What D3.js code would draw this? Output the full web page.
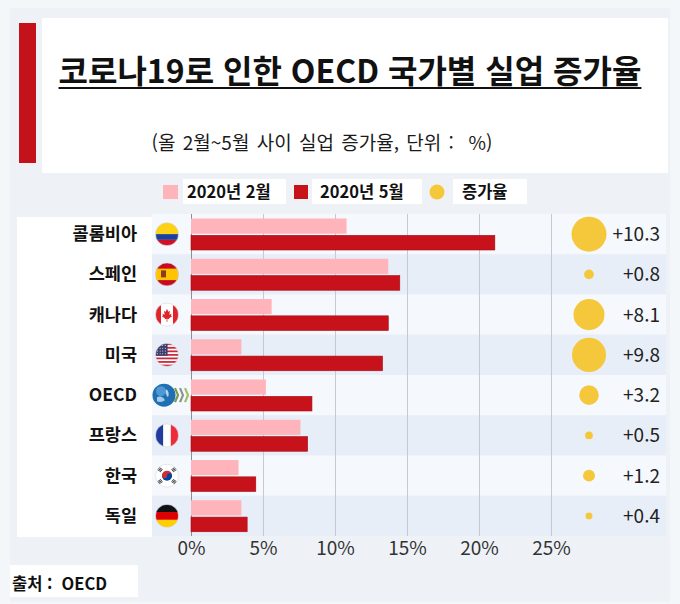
<!DOCTYPE html>
<html lang="ko">
<head>
<meta charset="UTF-8">
<title>코로나19로 인한 OECD 국가별 실업 증가율</title>
<script src="https://cdn.jsdelivr.net/npm/d3@7/dist/d3.min.js"></script>
<style>
  body { margin: 0; background: #f4f7fa; }
  svg { display: block; }
  text { font-family: "Noto Sans CJK KR", "Noto Sans", sans-serif; white-space: pre; }
</style>
</head>
<body>
<svg id="chart" width="680" height="604"></svg>
<script>
// 데이터
var countries = ["콜롬비아", "스페인", "캐나다", "미국", "OECD", "프랑스", "한국", "독일"];
var flagKeys  = ["co", "es", "ca", "us", "oecd", "fr", "kr", "de"];
var feb2020   = [10.8, 13.7, 5.6, 3.5, 5.2, 7.6, 3.3, 3.5];
var may2020   = [21.1, 14.5, 13.7, 13.3, 8.4, 8.1, 4.5, 3.9];
var increase  = [10.3, 0.8, 8.1, 9.8, 3.2, 0.5, 1.2, 0.4];
var xTicks    = [0, 5, 10, 15, 20, 25];
var legendLabels = ["2020년 2월", "2020년 5월", "증가율"];

var lightRed = "#ffb3ba", darkRed = "#c8121b", yellow = "#f5c83b";

var svg = d3.select("#chart");

// 배경 패널
svg.append("rect").attr("x", 10).attr("y", 8).attr("width", 660).attr("height", 594).attr("fill", "#eef2f7");
svg.append("rect").attr("x", 42).attr("y", 18).attr("width", 626).attr("height", 155).attr("fill", "#ffffff");
svg.append("rect").attr("x", 19).attr("y", 23).attr("width", 17).attr("height", 140).attr("fill", "#c4121a");

// 제목
var title = svg.append("text")
    .attr("x", 350).attr("y", 83)
    .attr("text-anchor", "middle")
    .attr("font-size", 32).attr("font-weight", "bold").attr("fill", "#111")
    .text("코로나19로 인한 OECD 국가별 실업 증가율");
var tb = title.node().getBBox();
svg.append("line")
    .attr("x1", tb.x).attr("x2", tb.x + tb.width)
    .attr("y1", 88).attr("y2", 88)
    .attr("stroke", "#111").attr("stroke-width", 2);

svg.append("text")
    .attr("x", 322).attr("y", 150)
    .attr("text-anchor", "middle")
    .attr("font-size", 19).attr("fill", "#1a1a1a")
    .attr("word-spacing", 2)
    .text("(올 2월~5월 사이 실업 증가율, 단위 :  %)");

// 스케일
var x = d3.scaleLinear().domain([0, 25]).range([191, 551]);
var y = d3.scaleBand().domain(countries).range([214, 536]);
var sub = d3.scaleBand().domain(["feb", "may"]).range([4.5, 36.5]).paddingInner(0.1);
var r = d3.scaleSqrt().domain([0, 10.3]).range([0, 17.5]);

// 범례
var legend = svg.append("g");
[[183, 286], [312, 422], [453, 527]].forEach(function (b) {
    legend.append("rect").attr("x", b[0]).attr("y", 179).attr("width", b[1] - b[0]).attr("height", 25).attr("fill", "#fff");
});
legend.append("rect").attr("x", 163).attr("y", 185).attr("width", 15).attr("height", 14).attr("fill", lightRed);
legend.append("rect").attr("x", 294).attr("y", 185).attr("width", 14).attr("height", 14).attr("fill", darkRed);
legend.append("circle").attr("cx", 437).attr("cy", 192).attr("r", 7.5).attr("fill", yellow);
legend.selectAll("text.lg").data(legendLabels).enter().append("text")
    .attr("class", "lg")
    .attr("x", function (d, i) { return [187, 320, 462][i]; })
    .attr("y", 198)
    .attr("font-size", 16.5).attr("font-weight", "bold").attr("fill", "#111")
    .text(function (d) { return d; });

// 행 배경
svg.selectAll("rect.band").data(countries).enter().append("rect")
    .attr("class", "band")
    .attr("x", 152).attr("width", 514)
    .attr("y", function (d) { return y(d); })
    .attr("height", y.bandwidth())
    .attr("fill", function (d, i) { return i % 2 ? "#e8eef8" : "#f5f8fc"; });

// 국가명 흰 상자
svg.append("rect").attr("x", 17).attr("y", 217).attr("width", 135).attr("height", 320).attr("fill", "#fff");

// 격자
var grid = svg.append("g").attr("transform", "translate(0,536)")
    .call(d3.axisBottom(x).tickValues(xTicks).tickSize(-322).tickFormat(""));
grid.select(".domain").remove();
grid.selectAll(".tick line").attr("stroke", function (d) { return d === 0 ? "#8a8f96" : "#c5cad2"; });

// 막대
var rows = svg.selectAll("g.row").data(countries).enter().append("g")
    .attr("class", "row")
    .attr("transform", function (d) { return "translate(0," + y(d) + ")"; });

rows.append("rect")
    .attr("x", x(0)).attr("y", sub("feb"))
    .attr("width", function (d, i) { return x(feb2020[i]) - x(0); })
    .attr("height", sub.bandwidth())
    .attr("fill", lightRed);

rows.append("rect")
    .attr("x", x(0)).attr("y", sub("may"))
    .attr("width", function (d, i) { return x(may2020[i]) - x(0); })
    .attr("height", sub.bandwidth() - 0.5)
    .attr("fill", darkRed).attr("stroke", "#a80d14").attr("stroke-width", 0.6);

rows.append("text")
    .attr("x", 137).attr("y", y.bandwidth() / 2 + 6)
    .attr("text-anchor", "end")
    .attr("font-size", 17.5).attr("font-weight", "bold").attr("fill", "#111")
    .text(function (d) { return d; });

rows.append("circle")
    .attr("cx", 589).attr("cy", y.bandwidth() / 2)
    .attr("r", function (d, i) { return r(increase[i]); })
    .attr("fill", yellow);

rows.append("text")
    .attr("x", 660).attr("y", y.bandwidth() / 2 + 7)
    .attr("text-anchor", "end")
    .attr("font-family", "Open Sans, Noto Sans, sans-serif")
    .attr("font-size", 19).attr("fill", "#222")
    .text(function (d, i) { return "+" + increase[i]; });

// 국기
var defs = svg.append("defs");
var FR = 11.5;
defs.append("clipPath").attr("id", "flagClip").append("circle").attr("r", FR);

function drawFlag(g, key) {
    var c = g.append("g").attr("clip-path", "url(#flagClip)");
    function band(x0, y0, w, h, col) {
        c.append("rect").attr("x", x0).attr("y", y0).attr("width", w).attr("height", h).attr("fill", col);
    }
    if (key === "co") {
        band(-FR, -FR, 2 * FR, FR, "#fcd116");
        band(-FR, 0, 2 * FR, FR / 2, "#1e3f9c");
        band(-FR, FR / 2, 2 * FR, FR / 2, "#ce1126");
    } else if (key === "es") {
        band(-FR, -FR, 2 * FR, 2 * FR, "#c60b1e");
        band(-FR, -FR / 2, 2 * FR, FR, "#ffc400");
        c.append("rect").attr("x", -6).attr("y", -4).attr("width", 5).attr("height", 7).attr("fill", "#8c3b1f");
    } else if (key === "ca") {
        band(-FR, -FR, 2 * FR, 2 * FR, "#ffffff");
        band(-FR, -FR, 5.5, 2 * FR, "#e0242b");
        band(FR - 5.5, -FR, 5.5, 2 * FR, "#e0242b");
        c.append("path")
            .attr("d", "M0,-6 L1.3,-3 L3,-3.6 L2.3,0 L4.5,-1 L4,1 L5.2,1.6 L2,3.5 L2.4,4.6 L0.4,4.2 L0.4,7 L-0.4,7 L-0.4,4.2 L-2.4,4.6 L-2,3.5 L-5.2,1.6 L-4,1 L-4.5,-1 L-2.3,0 L-3,-3.6 L-1.3,-3 Z")
            .attr("fill", "#e0242b");
    } else if (key === "us") {
        band(-FR, -FR, 2 * FR, 2 * FR, "#ffffff");
        var sh = 2 * FR / 13;
        for (var s = 0; s < 13; s += 2) band(-FR, -FR + s * sh, 2 * FR, sh, "#c8283c");
        band(-FR, -FR, FR * 1.05, sh * 7, "#3c3b6e");
        for (var a = 0; a < 4; a++) for (var b = 0; b < 4; b++)
            c.append("circle").attr("cx", -FR + 2 + a * 2.6).attr("cy", -FR + 2 + b * 2.8).attr("r", 0.5).attr("fill", "#fff");
    } else if (key === "oecd") {
        g.select("g").attr("clip-path", null);
        c.append("circle").attr("cx", -3).attr("cy", 0).attr("r", 11.5).attr("fill", "#1f6fb2");
        c.append("circle").attr("cx", -6).attr("cy", -4).attr("r", 5).attr("fill", "#5aa3dc").attr("opacity", 0.8);
        c.append("path").attr("d", "M-10,2 Q-5,0 -2,5 Q-6,8 -10,6 Z").attr("fill", "#c9e3f5").attr("opacity", 0.8);
        c.append("path").attr("d", "M-1,-6 Q3,-4 1,2 Q-2,-1 -1,-6 Z").attr("fill", "#d9edf8").attr("opacity", 0.8);
        [[11, "#7a9a4a"], [16, "#8a9396"], [21, "#9fbf62"]].forEach(function (v) {
            c.append("path")
                .attr("d", "M" + (v[0] - 3) + ",-7 L" + v[0] + ",0 L" + (v[0] - 3) + ",7")
                .attr("fill", "none").attr("stroke", v[1]).attr("stroke-width", 2.2);
        });
    } else if (key === "fr") {
        band(-FR, -FR, 2 * FR / 3 + 0.5, 2 * FR, "#1f3c9e");
        band(-FR / 3, -FR, 2 * FR / 3, 2 * FR, "#ffffff");
        band(FR / 3, -FR, 2 * FR / 3, 2 * FR, "#ef2b3a");
    } else if (key === "kr") {
        band(-FR, -FR, 2 * FR, 2 * FR, "#ffffff");
        c.append("path").attr("d", "M-5,0 A5,5 0 0 1 5,0 Z").attr("fill", "#cd2e3a");
        c.append("path").attr("d", "M-5,0 A5,5 0 0 0 5,0 Z").attr("fill", "#0047a0");
        c.append("circle").attr("cx", -2.5).attr("cy", 0).attr("r", 2.5).attr("fill", "#cd2e3a");
        c.append("circle").attr("cx", 2.5).attr("cy", 0).attr("r", 2.5).attr("fill", "#0047a0");
        [[-7, -6, 35], [7, -6, -35], [-7, 6, -35], [7, 6, 35]].forEach(function (t) {
            var tg = c.append("g").attr("transform", "translate(" + t[0] + "," + t[1] + ") rotate(" + t[2] + ")");
            for (var k = -1; k <= 1; k++)
                tg.append("rect").attr("x", -2.2).attr("y", k * 1.4 - 0.4).attr("width", 4.4).attr("height", 0.8).attr("fill", "#222");
        });
    } else if (key === "de") {
        band(-FR, -FR, 2 * FR, 2 * FR / 3 + 0.5, "#111111");
        band(-FR, -FR / 3, 2 * FR, 2 * FR / 3 + 0.5, "#dd0000");
        band(-FR, FR / 3, 2 * FR, 2 * FR / 3, "#ffce00");
    }
    if (key !== "oecd") {
        g.append("circle").attr("r", FR).attr("fill", "none").attr("stroke", "#d5d9de").attr("stroke-width", 0.6);
    }
}

rows.each(function (d, i) {
    var fg = d3.select(this).append("g")
        .attr("transform", "translate(167," + (y.bandwidth() / 2) + ")");
    drawFlag(fg, flagKeys[i]);
});

// x축 눈금 라벨
var axis = svg.append("g").attr("transform", "translate(0,536)")
    .call(d3.axisBottom(x).tickValues(xTicks).tickSize(0).tickPadding(5).tickFormat(function (d) { return d + "%"; }));
axis.select(".domain").remove();
axis.selectAll(".tick text")
    .attr("font-family", "Open Sans, Noto Sans, sans-serif")
    .attr("font-size", 19).attr("fill", "#333");

// 출처
svg.append("rect").attr("x", 10).attr("y", 565).attr("width", 128).attr("height", 32).attr("fill", "#fff");
svg.append("text")
    .attr("x", 12).attr("y", 590)
    .attr("font-size", 16.5).attr("font-weight", "bold").attr("fill", "#111")
    .text("출처 :  OECD");
</script>
</body>
</html>
